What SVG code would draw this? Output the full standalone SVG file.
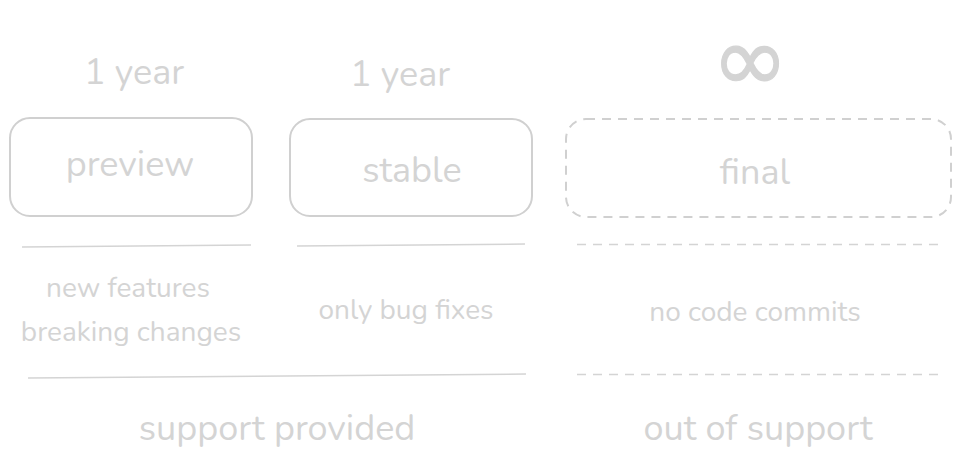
<svg xmlns="http://www.w3.org/2000/svg" width="961" height="461" viewBox="0 0 961 461">
<style>
text{font-family:"Nunito","Lato","Noto Sans",sans-serif;fill:#d4d4d4;text-anchor:middle}
.box{fill:none;stroke:#d0d0d0;stroke-width:2}
.dash{stroke-dasharray:9 7}
.ln{stroke:#d4d4d4;stroke-width:1.5;fill:none}
.big{font-size:36px}
.mid{font-size:28px}
.bot{font-size:36px}
</style>
<rect width="961" height="461" fill="#fff"/>
<g id="preview">
<text class="big" x="134" y="84">1 year</text>
<rect class="box" x="10" y="118" width="242" height="98" rx="20"/>
<text class="big" x="130" y="176">preview</text>
</g>
<g id="stable">
<text class="big" x="400" y="86">1 year</text>
<rect class="box" x="290" y="119" width="242" height="97" rx="20"/>
<text class="big" x="412" y="182">stable</text>
</g>
<g id="final">
<text x="750" y="91" style="font-size:92px;font-family:'DejaVu Sans',sans-serif;stroke:#d4d4d4;stroke-width:1.2">∞</text>
<rect class="box dash" x="566" y="119" width="385" height="98" rx="20"/>
<text class="big" x="755" y="184">final</text>
</g>
<g id="connectors">
<path class="ln" d="M22 247 L251 245"/>
<path class="ln" d="M297 246 L525 244"/>
<path class="ln dash" d="M577 244.5 L944 244.5"/>
<path class="ln" d="M28 378 L526 374"/>
<path class="ln dash" d="M577 374.5 L944 374.5"/>
</g>
<g id="labels">
<text class="mid" x="128" y="297">new features</text>
<text class="mid" x="131" y="341">breaking changes</text>
<text class="mid" x="406" y="319">only bug fixes</text>
<text class="mid" x="755" y="321">no code commits</text>
<text class="bot" x="277" y="440">support provided</text>
<text class="bot" x="758" y="440">out of support</text>
</g>
</svg>
